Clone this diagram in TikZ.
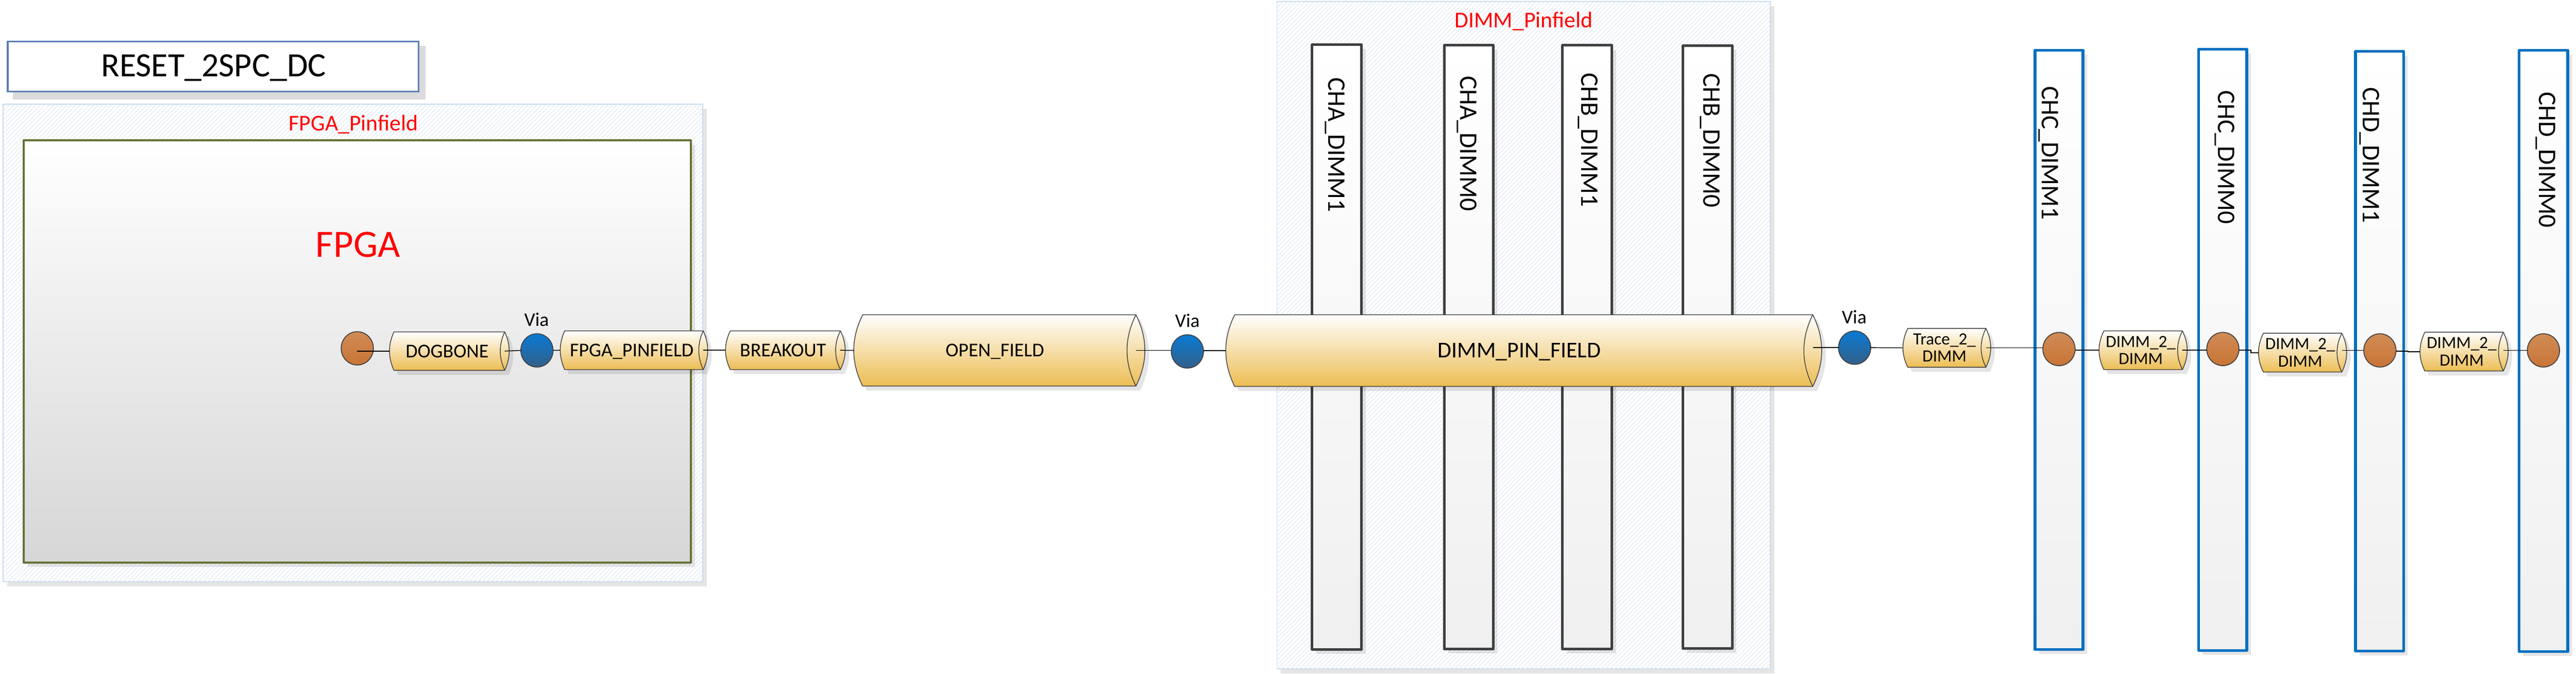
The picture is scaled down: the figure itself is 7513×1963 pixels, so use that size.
\documentclass[tikz,border=0pt]{standalone}
\usepackage{fontspec}
\setmainfont{Carlito}
\usetikzlibrary{shapes.geometric,patterns.meta}
\definecolor{edgegrey}{HTML}{404040}
\definecolor{panelline}{HTML}{C6D9EC}
\definecolor{panelhatch}{HTML}{E6EDF5}
\definecolor{fpgagreen}{HTML}{647236}
\definecolor{dimmblue}{HTML}{0070C0}
\definecolor{titleblue}{HTML}{5B7EB5}
\definecolor{cylgold}{HTML}{ECBD53}
\definecolor{cylmid}{HTML}{F6E2C6}
\definecolor{padtop}{HTML}{D08C57}
\definecolor{padbot}{HTML}{C97435}
\definecolor{viatop}{HTML}{0A7AD4}
\definecolor{viabot}{HTML}{33608A}
\newcommand{\fsz}[1]{\fontsize{#1}{#1}\selectfont}
\tikzset{
  pxw/.style={line width=#1*0.01cm},
  dropshade/.style={fill=black,opacity=0.1,draw=none},
  panelbox/.style={draw=panelline,pxw=2.5,fill=white,postaction={pattern={Lines[angle=45,distance=2.6pt,line width=.6pt]},pattern color=panelhatch}},
  titlebox/.style={draw=titleblue,pxw=5,fill=white},
  fpgabox/.style={draw=fpgagreen,pxw=6,top color=white,bottom color=black!16,line join=round},
  greybar/.style={draw=edgegrey,pxw=7.5,top color=white,bottom color=black!6,line join=round},
  bluebar/.style={draw=dimmblue,pxw=8,top color=white,bottom color=black!6,line join=round},
  cylfill/.style={draw=edgegrey,pxw=2.2,top color=white,middle color=cylmid,bottom color=cylgold,line join=round},
  cyllabel/.style={inner sep=0,outer sep=0,align=center,text depth=0pt},
  pad/.style={shape=ellipse,draw=edgegrey,pxw=2.6,inner sep=0,outer sep=0,minimum width=0.94cm,minimum height=0.97cm,top color=padtop,bottom color=padbot},
  viapad/.style={shape=ellipse,draw=edgegrey,pxw=2.6,inner sep=0,outer sep=0,minimum width=0.94cm,minimum height=0.97cm,top color=viatop,bottom color=viabot},
  wire/.style={draw=black,pxw=2.2},
  lab/.style={inner sep=0,outer sep=0,anchor=base},
  vlab/.style={inner sep=0,outer sep=0,rotate=-90,anchor=base west},
}
% name, x1, y1, x2, y2, style
\newcommand{\boxnode}[6]{%
  \path[dropshade] ({#2+12},{#3+13}) rectangle ({#4+12},{#5+13});
  \node[#6,inner sep=0,outer sep=0,minimum width={(#4-#2)*0.01cm},minimum height={(#5-#3)*0.01cm}] (#1) at ({(#2+#4)/2},{(#3+#5)/2}) {};
}
% x1, x2, y1, y2, bulge : outline
\newcommand{\cyloutline}[5]{%
  ({#1+#5},#3) -- (#2,#3)
  .. controls ({#2+4*#5/3},{#3+(#4-#3)/3}) and ({#2+4*#5/3},{#4-(#4-#3)/3}) .. (#2,#4)
  -- ({#1+#5},#4)
  .. controls ({#1-#5/3},{#4-(#4-#3)/3}) and ({#1-#5/3},{#3+(#4-#3)/3}) .. ({#1+#5},#3) -- cycle
}
% name, x1, x2, y1, y2, bulge, font size, text
\newcommand{\cylnode}[8]{%
  \path[dropshade,shift={(12,13)}] \cyloutline{#2}{#3}{#4}{#5}{#6};
  \path[cylfill] \cyloutline{#2}{#3}{#4}{#5}{#6};
  \draw[edgegrey,pxw=2.2] (#3,#4) .. controls ({#3-4*#6/3},{#4+(#5-#4)/3}) and ({#3-4*#6/3},{#5-(#5-#4)/3}) .. (#3,#5);
  \node[cyllabel,minimum width={(#3-#2)*0.01cm},minimum height={(#5-#4)*0.01cm},font=\fsz{#7}] (#1) at ({(#2+#3)/2},{(#4+#5)/2}) {#8};
}
\begin{document}
\begin{tikzpicture}[x=0.01cm,y=-0.01cm]
\useasboundingbox (0,0) rectangle (7513,1963);
\fill[white] (0,0) rectangle (7513,1963);

% title
\path[dropshade,opacity=0.14] (37,134) rectangle (1241,290);
\node[titlebox,inner sep=0,outer sep=0,minimum width=11.98cm,minimum height=1.46cm] (titleframe) at (622,194) {};
\node[lab,font=\fsz{28.2}] (title) at (623,223) {RESET\_2SPC\_DC};

% FPGA panel
\boxnode{fpgapanel}{9}{304}{2050}{1695}{panelbox}
\node[lab,font=\fsz{18.7},text=red] (fpgapanellab) at (1031,381) {FPGA\_Pinfield};
\boxnode{fpgachip}{69}{409}{2015}{1639}{fpgabox}
\node[lab,font=\fsz{32},text=red] (fpgalab) at (1044,749) {FPGA};

% DIMM panel
\boxnode{dimmpanel}{3724}{5}{5163}{1949}{panelbox}
\node[lab,font=\fsz{18.7},text=red] (dimmpanellab) at (4444,80) {DIMM\_Pinfield};

% grey DIMM bars
\boxnode{abara}{3827}{130}{3971}{1892}{greybar}
\boxnode{abarb}{4212}{132}{4355}{1891}{greybar}
\boxnode{abarc}{4557}{132}{4701}{1891}{greybar}
\boxnode{abard}{4908}{133}{5052}{1889}{greybar}
\node[vlab,font=\fsz{21}] (labaa) at (3874,226) {CHA\_DIMM1};
\node[vlab,font=\fsz{21}] (labab) at (4259,222) {CHA\_DIMM0};
\node[vlab,font=\fsz{21}] (labac) at (4612,213) {CHB\_DIMM1};
\node[vlab,font=\fsz{21}] (labad) at (4969,214) {CHB\_DIMM0};

% blue DIMM bars
\boxnode{cbara}{5935}{146}{6075}{1893}{bluebar}
\boxnode{cbarb}{6412}{143}{6553}{1895}{bluebar}
\boxnode{cbarc}{6870}{150}{7010}{1897}{bluebar}
\boxnode{cbard}{7347}{147}{7489}{1899}{bluebar}
\node[vlab,font=\fsz{21}] (labca) at (5956,252) {CHC\_DIMM1};
\node[vlab,font=\fsz{21}] (labcb) at (6470,264) {CHC\_DIMM0};
\node[vlab,font=\fsz{21}] (labcc) at (6891,255) {CHD\_DIMM1};
\node[vlab,font=\fsz{21}] (labcd) at (7406,268) {CHD\_DIMM0};

% cylinders
\cylnode{dog}{1136}{1472}{967}{1079}{13}{16.2}{DOGBONE}
\cylnode{pin}{1634}{2051}{964}{1077}{13}{16.2}{FPGA\_PINFIELD}
\cylnode{brk}{2116}{2451}{964}{1077}{14}{16.2}{BREAKOUT}
\cylnode{open}{2490}{3313}{917}{1125}{26}{16.2}{OPEN\_FIELD}
\cylnode{dimm}{3575}{5287}{917}{1126}{26}{18.7}{DIMM\_PIN\_FIELD}
\cylnode{trace}{5550}{5792}{957}{1070}{14}{14.2}{Trace\_2\_\\DIMM}
\cylnode{dima}{6122}{6365}{964}{1077}{14}{14.2}{DIMM\_2\_\\DIMM}
\cylnode{dimb}{6587}{6830}{971}{1084}{14}{14.2}{DIMM\_2\_\\DIMM}
\cylnode{dimc}{7058}{7301}{968}{1081}{14}{14.2}{DIMM\_2\_\\DIMM}

% pads and vias
\node[pad] (pa) at (1042,1015) {};
\node[viapad] (va) at (1566,1021) {};
\node[viapad] (vb) at (3463,1024) {};
\node[viapad] (vc) at (5409,1013) {};
\node[pad] (pb) at (6005,1017) {};
\node[pad] (pc) at (6483,1017) {};
\node[pad] (pd) at (6941,1021) {};
\node[pad] (pe) at (7418,1021) {};
\node[lab,font=\fsz{16}] (vala) at (1565,951) {Via};
\node[lab,font=\fsz{16}] (valb) at (3463,954) {Via};
\node[lab,font=\fsz{16}] (valc) at (5408,943) {Via};

% connectors
\coordinate (kneeb) at (6565,1020);
\coordinate (kneec) at (7023,1023);
\draw[wire] (pa.center |- dog.west) -- (dog.west);
\draw[wire] (dog.east) -- (va.west);
\draw[wire] (va.east) -- (pin.west);
\draw[wire] (pin.east) -- (brk.west);
\draw[wire] (brk.east) -- (open.west);
\draw[wire] (open.east) -- (vb.west |- open.east);
\draw[wire] (vb.east |- dimm.west) -- (dimm.west);
\draw[wire] (vc.west -| dimm.east) -- (vc.west);
\draw[wire] (vc.east) -- (trace.west);
\draw[wire] (trace.east) -- (pb.west |- trace.east);
\draw[wire] (pb.east |- dima.west) -- (dima.west);
\draw[wire] (dima.east) -- (pc.west |- dima.east);
\draw[wire] (pc.east |- kneeb) -- (kneeb) |- (dimb.west);
\draw[wire] (pd.west -| dimb.east) -- (pd.west);
\draw[wire] (pd.east |- kneec) -- (kneec) |- (dimc.west);
\draw[wire] (pe.west -| dimc.east) -- (pe.west);
\end{tikzpicture}
\end{document}
